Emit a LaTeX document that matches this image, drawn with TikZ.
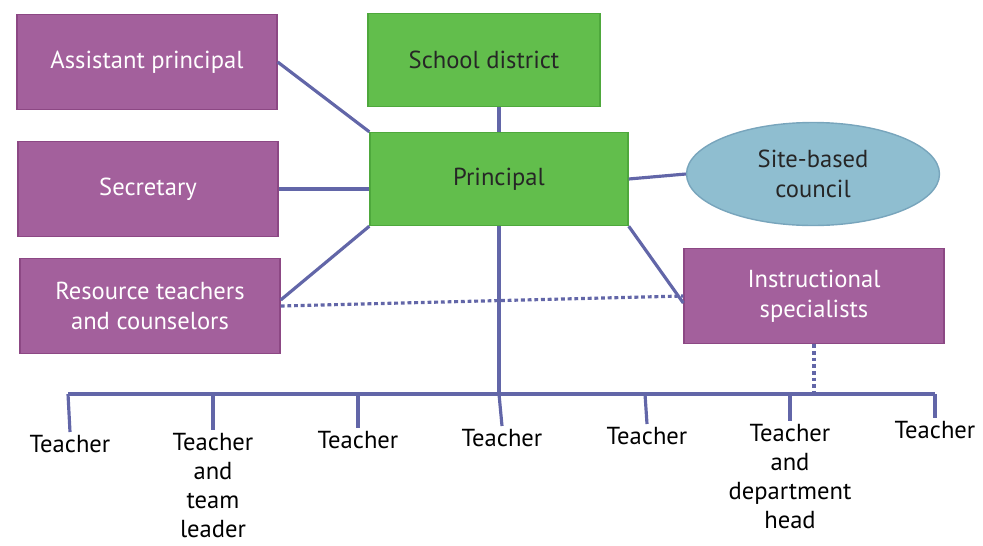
\documentclass[tikz,border=0pt]{standalone}
\usepackage{fontspec}
\setmainfont{PT Sans}
\usetikzlibrary{shapes.geometric}
\definecolor{plum}{RGB}{163,96,156}
\definecolor{plumedge}{RGB}{140,72,132}
\definecolor{leaf}{RGB}{98,190,76}
\definecolor{leafedge}{RGB}{78,168,60}
\definecolor{sky}{RGB}{143,190,208}
\definecolor{skyedge}{RGB}{120,165,188}
\definecolor{wire}{RGB}{98,102,168}
\begin{document}
\begin{tikzpicture}[x=0.02cm,y=-0.02cm,
 line width=1.8pt,
 staff/.style={draw=plumedge,fill=plum,text=white,line width=.8pt,
   minimum width=5.2cm,minimum height=1.9cm,align=center,
   font=\fontsize{14}{17}\selectfont},
 office/.style={draw=leafedge,fill=leaf,text=black!85,line width=.8pt,
   minimum height=1.86cm,align=center,font=\fontsize{14}{17}\selectfont},
 council/.style={ellipse,draw=skyedge,fill=sky,text=black!85,line width=.8pt,
   minimum width=5.06cm,minimum height=2.06cm,align=center,inner sep=0pt,
   font=\fontsize{14}{17}\selectfont},
 teacher/.style={anchor=north,align=center,inner sep=1pt,
   font=\fontsize{14}{16.5}\selectfont},
 link/.style={draw=wire},
 dotlink/.style={draw=wire,dash pattern=on 2.2pt off 1.6pt},
]
 \useasboundingbox (0,0) rectangle (983,545);
 % boxes
 \node[staff] (asst) at (147,62) {Assistant principal};
 \node[staff] (sec) at (148,189) {Secretary};
 \node[staff] (res) at (150,306) {Resource teachers\\and counselors};
 \node[office,minimum width=4.64cm] (dist) at (484,60) {School district};
 \node[office,minimum width=5.16cm] (prin) at (499,179) {Principal};
 \node[council] (sbc) at (813,174) {Site-based\\council};
 \node[staff] (instr) at (814,296) {Instructional\\specialists};
 % teachers row
 \path
 (68,394) coordinate (b1)
 ++(145,0) coordinate (b2)
 ++(145,0) coordinate (b3)
 ++(141,0) coordinate (b4)
 ++(146,0) coordinate (b5)
 ++(145,0) coordinate (b6)
 ++(145,0) coordinate (b7);
 \node[teacher] (t1) at (70,432) {Teacher};
 \node[teacher] (t2) at (213,430) {Teacher\\and\\team\\leader};
 \node[teacher] (t3) at (358,428) {Teacher};
 \node[teacher] (t4) at (502,426) {Teacher};
 \node[teacher] (t5) at (647,424) {Teacher};
 \node[teacher] (t6) at (790,421) {Teacher\\and\\department\\head};
 \node[teacher] (t7) at (935,418) {Teacher};
 % connectors
 \draw[link] (prin.north |- dist.south) -- (prin.north);
 \draw[link] (asst.east) -- (prin.north west);
 \draw[link] (sec.east) -- (sec.east -| prin.west);
 \draw[link] (res.east) ++(0,-6) -- (prin.south west);
 \draw[link] (prin.east) -- (sbc.west);
 \draw[link] (prin.south east) -- ([yshift=-4pt]instr.west);
 \draw[dotlink] (res.east) -- (instr.west);
 \draw[link] (prin.south) -- (prin.south |- b4);
 \draw[dotlink] (instr.south) -- (instr.south |- b6);
 \draw[link] (b1) -- (b7);
 \draw[link] (b1) -- (t1.north);
 \draw[link] (b2) -- (t2.north);
 \draw[link] (b3) -- (t3.north);
 \draw[link] (b4) -- (t4.north);
 \draw[link] (b5) -- (t5.north);
 \draw[link] (b6) -- (t6.north);
 \draw[link] (b7) -- (t7.north);
\end{tikzpicture}
\end{document}
